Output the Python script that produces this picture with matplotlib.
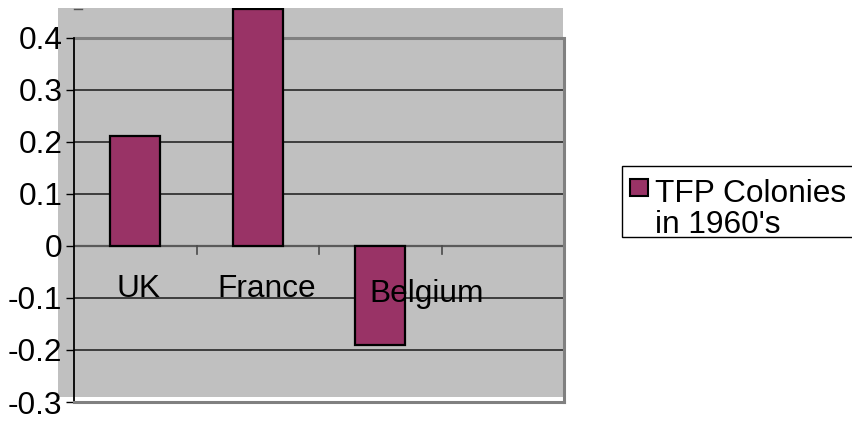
import matplotlib
matplotlib.use("Agg")
import matplotlib.pyplot as plt
from matplotlib.patches import Rectangle

plt.rcParams['font.family'] = ['Liberation Sans', 'DejaVu Sans']

# Data
categories = ["UK", "France", "Belgium", ""]
tfp_values = [0.212, 0.455, -0.191]
legend_lines = ["TFP Colonies", "in 1960's"]
y_ticks = [-0.3, -0.2, -0.1, 0.0, 0.1, 0.2, 0.3, 0.4]
y_tick_labels = ["-0.3", "-0.2", "-0.1", "0", "0.1", "0.2", "0.3", "0.4"]

W, H = 852, 423
FS = 22.8
BAR_COLOR = "#993366"
PLOT_GRAY = "#C0C0C0"

fig = plt.figure(figsize=(W / 100, H / 100), dpi=100)

def fx(px):
    return px / W

def fy(py):
    return 1 - py / H

# gray plot-area fill (offset from the axis frame)
fig.patches.append(Rectangle((fx(58), fy(397)), fx(563) - fx(58), fy(8) - fy(397),
                             transform=fig.transFigure, facecolor=PLOT_GRAY,
                             edgecolor="none", zorder=-2))

ax = fig.add_axes([fx(74), fy(402), fx(564) - fx(74), fy(8) - fy(402)])
ax.set_zorder(1)
ax.set_facecolor("none")
ax.patch.set_alpha(0)
ax.set_xlim(-0.5, len(categories) - 0.5)
ax.set_ylim(-0.3, 0.457)

# horizontal gridlines
for t in y_ticks:
    if t in (-0.3, 0.4):
        continue
    if t == 0.0:
        ax.axhline(t, color="#5a5a5a", lw=1.6, zorder=1)
    else:
        ax.axhline(t, color="#1a1a1a", lw=1.1, zorder=1)
ax.axhline(0.4, color="#808080", lw=2.2, zorder=1)

# bars
xs = list(range(len(tfp_values)))
ax.bar(xs, tfp_values, width=0.41, color=BAR_COLOR, edgecolor="black",
       linewidth=1.6, zorder=3)

# category separator ticks hanging from the zero line
for b in [i + 0.5 for i in range(len(categories))]:
    ax.plot([b, b], [0, -0.015], color="#4a4a4a", lw=1.2, zorder=2, clip_on=False)

# category labels
label_dx = [0.03, 0.07, 0.38]
label_y = [-0.099, -0.099, -0.108]
for i, name in enumerate(categories[:3]):
    ax.text(i + label_dx[i], label_y[i], name, ha="center", va="baseline",
            fontsize=FS, color="black", zorder=5)

# axis frame
ax.spines["top"].set_visible(False)
ax.spines["left"].set_bounds(-0.3, 0.4)
ax.spines["left"].set_color("black")
ax.spines["left"].set_linewidth(1.3)
ax.spines["right"].set_bounds(-0.3, 0.4)
ax.spines["right"].set_color("#808080")
ax.spines["right"].set_linewidth(2.2)
ax.spines["bottom"].set_color("#808080")
ax.spines["bottom"].set_linewidth(2.2)

ax.set_yticks(y_ticks)
ax.set_yticklabels(y_tick_labels, fontsize=FS)
ax.tick_params(axis="y", direction="out", length=5.8, width=1, color="black", pad=2.5)
ax.set_xticks([])

# small mark at the top of the value axis
ax.plot([0, 0.016], [0.997, 0.997], transform=ax.transAxes, color="#555555",
        lw=1, clip_on=False, zorder=2)

# legend box
fig.patches.append(Rectangle((fx(622), fy(237)), fx(860) - fx(622), fy(166) - fy(237),
                             transform=fig.transFigure, facecolor="white",
                             edgecolor="black", linewidth=1.0, zorder=2))
fig.patches.append(Rectangle((fx(630), fy(196)), fx(648) - fx(630), fy(179) - fy(196),
                             transform=fig.transFigure, facecolor=BAR_COLOR,
                             edgecolor="black", linewidth=1.5, zorder=3))
fig.text(fx(655), fy(202), legend_lines[0], fontsize=FS, va="baseline", ha="left", zorder=4)
fig.text(fx(655), fy(233), legend_lines[1], fontsize=FS, va="baseline", ha="left", zorder=4)

fig.savefig("out.png", dpi=100)
